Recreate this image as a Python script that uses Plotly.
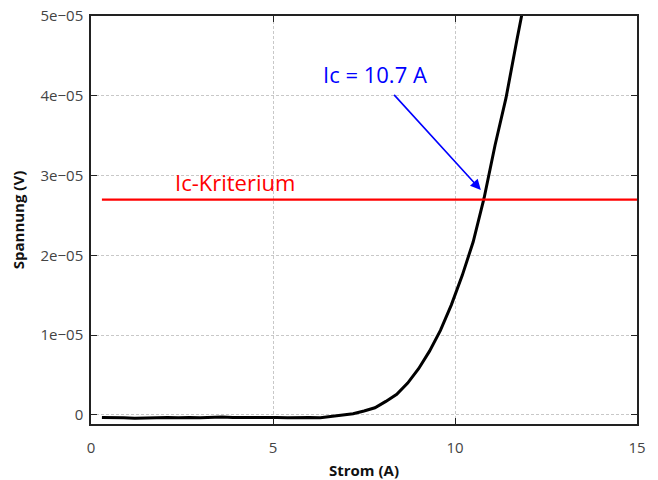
import plotly.graph_objects as go

# Measured data: current (A) vs voltage (V)
strom = [0.3, 0.6, 0.9, 1.2, 1.5, 1.8, 2.1, 2.4, 2.7, 3.0, 3.3, 3.6, 3.9, 4.2,
         4.5, 4.8, 5.1, 5.4, 5.7, 6.0, 6.3, 6.6, 6.9, 7.2, 7.5, 7.8, 8.1, 8.4,
         8.7, 9.0, 9.3, 9.6, 9.9, 10.2, 10.5, 10.8, 11.1, 11.4, 11.7, 12.0]
spannung = [-3.0e-7, -3.0e-7, -3.5e-7, -4.0e-7, -3.5e-7, -3.5e-7, -3.0e-7, -3.5e-7,
            -3.0e-7, -3.5e-7, -3.0e-7, -2.5e-7, -3.0e-7, -3.0e-7, -3.0e-7, -2.5e-7,
            -3.0e-7, -3.5e-7, -3.0e-7, -3.0e-7, -3.5e-7, -2.0e-7, 0.0, 1.5e-7,
            5.0e-7, 9.0e-7, 1.7e-6, 2.6e-6, 4.0e-6, 5.8e-6, 8.0e-6, 1.06e-5,
            1.38e-5, 1.75e-5, 2.17e-5, 2.72e-5, 3.38e-5, 3.97e-5, 4.7e-5, 5.4e-5]

# Criterion line
krit_x = [0.3, 15]
krit_y = [2.7e-5, 2.7e-5]
krit_label = "Ic-Kriterium"
ic_label = "Ic = 10.7 A"

x_ticks = [0, 5, 10, 15]
x_ticktext = ["0", "5", "10", "15"]
y_ticks = [0, 1e-5, 2e-5, 3e-5, 4e-5, 5e-5]
y_ticktext = ["0", "1e\u221205", "2e\u221205", "3e\u221205", "4e\u221205", "5e\u221205"]

FONT = "Open Sans"

fig = go.Figure()
fig.add_trace(go.Scatter(x=strom, y=spannung, mode="lines",
                         line=dict(color="black", width=3), showlegend=False))
fig.add_trace(go.Scatter(x=krit_x, y=krit_y, mode="lines",
                         line=dict(color="#ff0000", width=2.2), showlegend=False))

fig.add_annotation(x=3.96, y=2.92e-5, xref="x", yref="y", text=krit_label,
                   showarrow=False, font=dict(family=FONT, size=22, color="#ff0000"))
fig.add_annotation(x=7.8, y=4.27e-5, xref="x", yref="y", text=ic_label,
                   showarrow=False, font=dict(family=FONT, size=22, color="#0000ff"))
fig.add_annotation(x=10.71, y=2.82e-5, ax=8.29, ay=4.03e-5, xref="x", yref="y",
                   axref="x", ayref="y", text="", showarrow=True,
                   arrowhead=2, arrowsize=1.3, arrowwidth=1.6, arrowcolor="#0000ff")

axis_common = dict(
    showline=True, linecolor="#222222", linewidth=1.5, mirror="allticks",
    ticks="inside", ticklen=6, tickwidth=1.3, tickcolor="#222222",
    showgrid=True, gridcolor="#c8c8c8", gridwidth=0.8, griddash="3px,2px",
    zeroline=False, automargin=False,
    tickfont=dict(family=FONT, size=15, color="#444444"),
)

fig.update_xaxes(range=[0, 15], tickvals=x_ticks, ticktext=x_ticktext,
                 ticklabelstandoff=9,
                 title=dict(text="<b>Strom (A)</b>", font=dict(family=FONT, size=15, color="#111111"),
                            standoff=10),
                 **axis_common)
fig.update_yaxes(range=[-1.13e-6, 5e-5], tickvals=y_ticks, ticktext=y_ticktext,
                 ticklabelstandoff=3,
                 title=dict(text="<b>Spannung (V)</b>", font=dict(family=FONT, size=15, color="#111111"),
                            standoff=12),
                 **axis_common)

fig.update_layout(width=658, height=480, plot_bgcolor="white", paper_bgcolor="white",
                  margin=dict(l=91, r=21, t=16, b=56), font=dict(family=FONT))

fig.write_html("out.html")
